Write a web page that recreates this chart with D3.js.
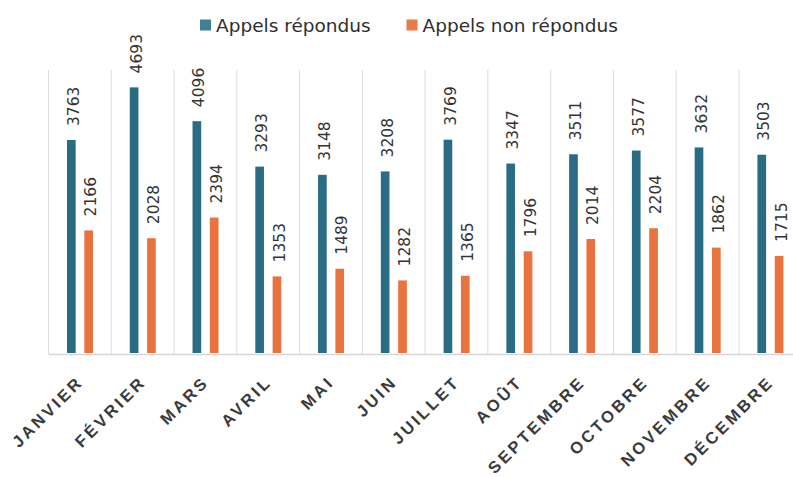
<!DOCTYPE html>
<html>
<head>
<meta charset="utf-8">
<script src="https://cdn.jsdelivr.net/npm/d3@7"></script>
<style>
  body { margin: 0; background: #fff; }
  svg { display: block; font-family: "DejaVu Sans", sans-serif; }
</style>
</head>
<body>
<div id="chart"></div>
<script>
var months = ["JANVIER", "FÉVRIER", "MARS", "AVRIL", "MAI", "JUIN", "JUILLET", "AOÛT", "SEPTEMBRE", "OCTOBRE", "NOVEMBRE", "DÉCEMBRE"];
var seriesNames = ["Appels répondus", "Appels non répondus"];
var repondus = [3763, 4693, 4096, 3293, 3148, 3208, 3769, 3347, 3511, 3577, 3632, 3503];
var nonRepondus = [2166, 2028, 2394, 1353, 1489, 1282, 1365, 1796, 2014, 2204, 1862, 1715];
var colors = ["#2a6c84", "#e8733e"];

var width = 793, height = 477;
var plot = { left: 48.5, right: 801.7, top: 70, bottom: 353 };

var svg = d3.select("#chart").append("svg")
    .attr("width", width)
    .attr("height", height);

var x = d3.scaleBand()
    .domain(months)
    .range([plot.left, plot.right])
    .padding(0);

var xs = d3.scaleBand()
    .domain(seriesNames)
    .range([18.5, 44.5])
    .paddingInner(0.5);

var y = d3.scaleLinear()
    .domain([0, 5000])
    .range([plot.bottom, plot.top]);

// vertical gridlines between months
var bounds = months.map(function(m) { return x(m); });
svg.append("g").selectAll("line")
    .data(bounds)
    .enter().append("line")
    .attr("x1", function(d) { return d; })
    .attr("x2", function(d) { return d; })
    .attr("y1", plot.top)
    .attr("y2", plot.bottom + 1)
    .attr("stroke", "#dcdcdc")
    .attr("stroke-width", 1);

// baseline
svg.append("line")
    .attr("x1", plot.left)
    .attr("x2", width)
    .attr("y1", plot.bottom + 1.5)
    .attr("y2", plot.bottom + 1.5)
    .attr("stroke", "#d6d6d6")
    .attr("stroke-width", 1.5);

var data = months.map(function(m, i) {
    return { month: m, values: [repondus[i], nonRepondus[i]] };
});

var group = svg.selectAll(".month")
    .data(data)
    .enter().append("g")
    .attr("class", "month")
    .attr("transform", function(d) { return "translate(" + x(d.month) + ",0)"; });

group.selectAll("rect")
    .data(function(d) { return d.values.map(function(v, j) { return { name: seriesNames[j], value: v, idx: j }; }); })
    .enter().append("rect")
    .attr("x", function(d) { return xs(d.name); })
    .attr("width", xs.bandwidth())
    .attr("y", function(d) { return y(d.value); })
    .attr("height", function(d) { return y(0) - y(d.value); })
    .attr("fill", function(d) { return colors[d.idx]; });

// value labels, rotated
group.selectAll("text.val")
    .data(function(d) { return d.values.map(function(v, j) { return { name: seriesNames[j], value: v }; }); })
    .enter().append("text")
    .attr("class", "val")
    .attr("transform", function(d) {
        return "translate(" + (xs(d.name) + xs.bandwidth() / 2 + 2) + "," + (y(d.value) - 14) + ") rotate(-90)";
    })
    .attr("dy", "0.36em")
    .attr("font-size", "15.5px")
    .attr("fill", "#333")
    .text(function(d) { return d.value; });

// x axis labels
svg.append("g").selectAll("text")
    .data(months)
    .enter().append("text")
    .attr("transform", function(d) {
        return "translate(" + (x(d) + x.bandwidth() / 2 + 4.5) + ",383) rotate(-45)";
    })
    .attr("text-anchor", "end")
    .attr("font-family", "'Liberation Sans', Arial, sans-serif")
    .attr("font-size", "16.5px")
    .attr("font-weight", "bold")
    .attr("letter-spacing", "3px")
    .attr("fill", "#3a3a3a")
    .text(function(d) { return d; });

// legend
var legendX = [200, 406.5];
var legend = svg.append("g").selectAll("g")
    .data(seriesNames)
    .enter().append("g")
    .attr("transform", function(d, i) { return "translate(" + legendX[i] + ",0)"; });

legend.append("rect")
    .attr("x", 0)
    .attr("y", 19.5)
    .attr("width", 11)
    .attr("height", 11)
    .attr("fill", function(d, i) { return i == 0 ? "#3f8096" : "#ea7a48"; });

legend.append("text")
    .attr("x", 16)
    .attr("y", 31.5)
    .attr("font-size", "18.5px")
    .attr("fill", "#2e2e2e")
    .text(function(d) { return d; });
</script>
</body>
</html>
